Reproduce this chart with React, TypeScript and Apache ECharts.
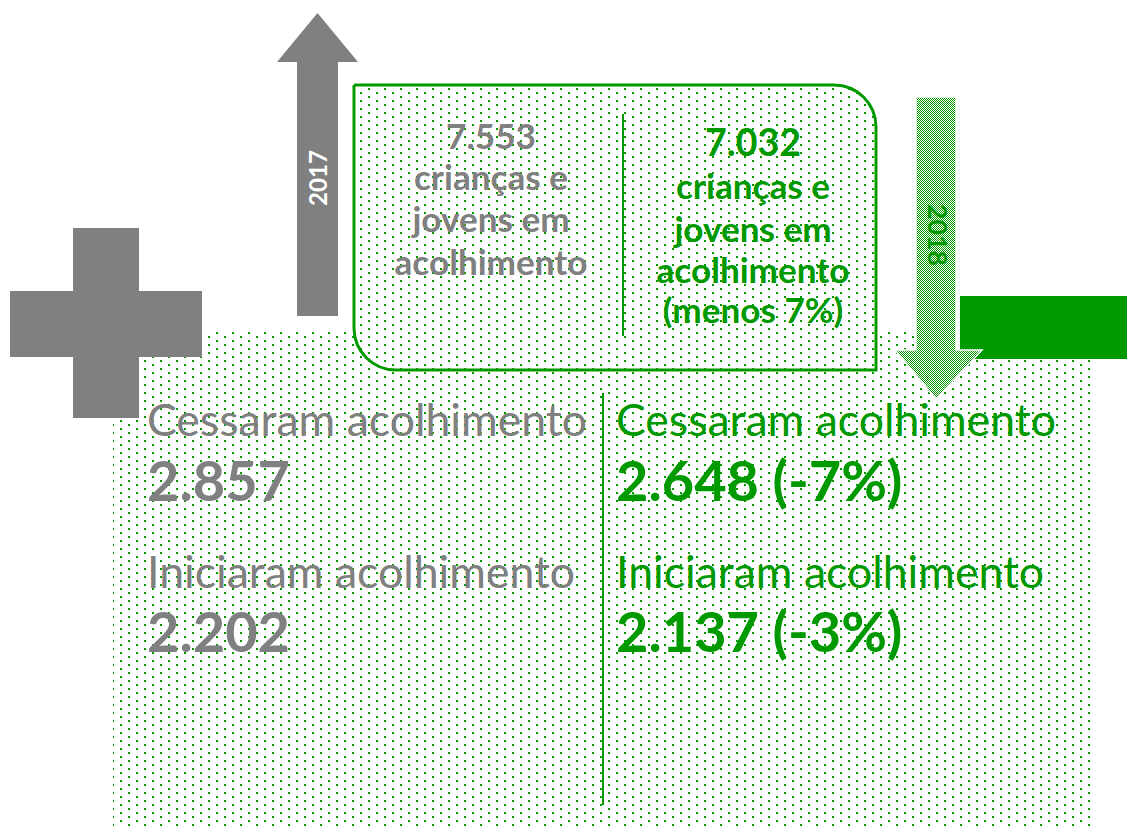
import React, { useEffect, useRef } from 'react';
import * as echarts from 'echarts';

// ---------- data ----------
const years = ['2017', '2018'];
const totalInCare = ['7.553', '7.032'];
const totalLines = ['crianças e', 'jovens em', 'acolhimento'];
const totalChange = ['', '(menos 7%)'];
const exitedLabel = 'Cessaram acolhimento';
const exited = ['2.857', '2.648'];
const exitedChange = ['', '(-7%)'];
const enteredLabel = 'Iniciaram acolhimento';
const entered = ['2.202', '2.137'];
const enteredChange = ['', '(-3%)'];

// ---------- style ----------
const W = 1127;
const H = 828;
const GREY = '#808080';
const GREEN = '#009900';
const FONT = 'Lato';
const CENTRAL = 0.387; // offset of the "central" baseline above the alphabetic baseline (em)

function measure(text: string, weight: string, size: number): number {
  const ctx = document.createElement('canvas').getContext('2d')!;
  ctx.font = `${weight} ${size}px ${FONT}`;
  return ctx.measureText(text).width;
}
function fit(text: string, weight: string, target: number): number {
  return (100 * target) / measure(text, weight, 100);
}

function dotCanvas(): HTMLCanvasElement {
  const c = document.createElement('canvas');
  c.width = 16;
  c.height = 8;
  const ctx = c.getContext('2d')!;
  ctx.fillStyle = GREEN;
  ctx.fillRect(0, 0, 2, 2);
  ctx.fillRect(8, 4, 2, 2);
  return c;
}
function checkerCanvas(): HTMLCanvasElement {
  const c = document.createElement('canvas');
  c.width = 2;
  c.height = 2;
  const ctx = c.getContext('2d')!;
  ctx.fillStyle = '#ffffff';
  ctx.fillRect(0, 0, 2, 2);
  ctx.fillStyle = GREEN;
  ctx.fillRect(0, 0, 1, 1);
  ctx.fillRect(1, 1, 1, 1);
  return c;
}

function txt(
  text: string,
  x: number,
  baseline: number,
  size: number,
  weight: string,
  color: string,
  align: string = 'left'
) {
  return {
    type: 'text',
    x,
    y: baseline - CENTRAL * size,
    z: 20,
    style: {
      text,
      fontSize: size,
      fontWeight: weight,
      fontFamily: FONT,
      fill: color,
      align,
      verticalAlign: 'middle',
    },
  };
}

export default function App() {
  const ref = useRef<HTMLDivElement>(null);

  useEffect(() => {
    const chart = echarts.init(ref.current!, null, { renderer: 'svg' });

    const dots = { image: dotCanvas(), repeat: 'repeat', imageWidth: 16, imageHeight: 8 };
    const checker = { image: checkerCanvas(), repeat: 'repeat', imageWidth: 2, imageHeight: 2 };

    // font sizes fitted to the widths measured on the reference
    const boxSize = fit(totalLines[2], 'bold', 193);
    const box2Big = fit(totalInCare[1], 'bold', 96);
    const labelSize = fit(exitedLabel, 'normal', 440);
    const numSize = fit(exited[0], 'bold', 143);
    const y2017 = fit(years[0], 'bold', 56);
    const y2018 = fit(years[1], 'bold', 62);

    const els: any[] = [];

    // dotted background area
    els.push({
      type: 'rect',
      z: 1,
      shape: { x: 113, y: 331, width: 979, height: H - 331 },
      style: { fill: dots },
    });

    // grey plus
    els.push({ type: 'rect', z: 6, shape: { x: 73, y: 228, width: 66, height: 190 }, style: { fill: GREY } });
    els.push({ type: 'rect', z: 6, shape: { x: 10, y: 291, width: 192, height: 66 }, style: { fill: GREY } });

    // grey up arrow (2017)
    els.push({
      type: 'polygon',
      z: 6,
      shape: {
        points: [
          [297, 316],
          [297, 62],
          [277, 62],
          [317.5, 13],
          [358, 62],
          [338, 62],
          [338, 316],
        ],
      },
      style: { fill: GREY },
    });
    els.push({
      type: 'text',
      x: 317.5,
      y: 178,
      rotation: Math.PI / 2,
      z: 21,
      style: {
        text: years[0],
        fontSize: y2017,
        fontWeight: 'bold',
        fontFamily: FONT,
        fill: '#ffffff',
        align: 'center',
        verticalAlign: 'middle',
      },
    });

    // green solid bar
    els.push({ type: 'rect', z: 5, shape: { x: 960, y: 296, width: W - 960, height: 63 }, style: { fill: GREEN } });

    // green down arrow (2018)
    els.push({
      type: 'polygon',
      z: 7,
      shape: {
        points: [
          [916, 97],
          [956, 97],
          [956, 350],
          [982, 350],
          [936, 399],
          [895, 350],
          [916, 350],
        ],
      },
      style: { fill: checker, stroke: '#ffffff', lineWidth: 1.5 },
    });
    els.push({
      type: 'text',
      x: 937.5,
      y: 235,
      rotation: -Math.PI / 2,
      z: 21,
      style: {
        text: years[1],
        fontSize: y2018,
        fontWeight: 'bold',
        fontFamily: FONT,
        fill: GREEN,
        align: 'center',
        verticalAlign: 'middle',
      },
    });

    // rounded box
    els.push({
      type: 'rect',
      z: 8,
      shape: { x: 354, y: 85, width: 522, height: 285, r: [0, 42, 0, 42] },
      style: { fill: dots, stroke: GREEN, lineWidth: 3 },
    });
    els.push({
      type: 'line',
      z: 9,
      shape: { x1: 623, y1: 114, x2: 623, y2: 336 },
      style: { stroke: GREEN, lineWidth: 2 },
    });

    // box texts - 2017
    const lx = 491;
    els.push(txt(totalInCare[0], lx, 149, boxSize, 'bold', GREY, 'center'));
    const leftBase = [190, 231.5, 274.5];
    totalLines.forEach((t, i) => els.push(txt(t, lx, leftBase[i], boxSize, 'bold', GREY, 'center')));

    // box texts - 2018
    const rx = 753;
    els.push(txt(totalInCare[1], rx, 156, box2Big, 'bold', GREEN, 'center'));
    const rightBase = [199, 242, 283];
    totalLines.forEach((t, i) => els.push(txt(t, rx, rightBase[i], boxSize, 'bold', GREEN, 'center')));
    els.push(txt(totalChange[1], rx, 323, boxSize, 'bold', GREEN, 'center'));

    // lower divider
    els.push({
      type: 'line',
      z: 9,
      shape: { x1: 603, y1: 393, x2: 603, y2: 805 },
      style: { stroke: GREEN, lineWidth: 2 },
    });

    // lower texts
    const cols = [
      { x: 147, color: GREY },
      { x: 616, color: GREEN },
    ];
    cols.forEach((c, i) => {
      const suffix1 = exitedChange[i] ? ' ' + exitedChange[i] : '';
      const suffix2 = enteredChange[i] ? ' ' + enteredChange[i] : '';
      els.push(txt(exitedLabel, c.x, 436, labelSize, 'normal', c.color));
      els.push(txt(exited[i] + suffix1, c.x, 501, numSize, 'bold', c.color));
      els.push(txt(enteredLabel, c.x, 588, labelSize, 'normal', c.color));
      els.push(txt(entered[i] + suffix2, c.x, 652, numSize, 'bold', c.color));
    });

    chart.setOption({
      animation: false,
      backgroundColor: '#ffffff',
      graphic: { elements: els },
    });

    return () => chart.dispose();
  }, []);

  return (
    <div
      ref={ref}
      style={{ position: 'fixed', left: 0, top: 0, width: W + 'px', height: H + 'px', background: '#ffffff' }}
    />
  );
}
